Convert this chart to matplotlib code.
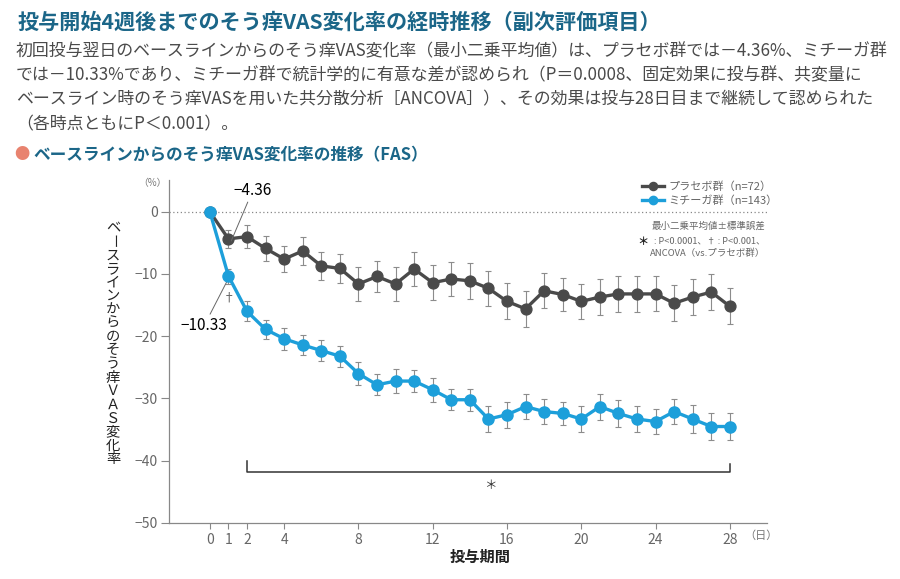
import matplotlib
matplotlib.use('Agg')
import matplotlib.pyplot as plt
import numpy as np

plt.rcParams['font.family'] = ['Noto Sans CJK JP', 'DejaVu Sans']

# データ
days = np.arange(0, 29)
placebo = [0, -4.36, -4.0, -5.9, -7.6, -6.3, -8.7, -9.1, -11.6, -10.4, -11.6, -9.2, -11.4, -10.8,
           -11.1, -12.3, -14.4, -15.6, -12.7, -13.3, -14.4, -13.7, -13.2, -13.2, -13.2, -14.7,
           -13.7, -12.9, -15.2]
placebo_se = [0, 1.5, 1.9, 2.0, 2.1, 2.2, 2.3, 2.3, 2.7, 2.5, 2.7, 2.8, 2.8, 2.7,
              2.9, 2.8, 2.9, 2.9, 2.8, 2.7, 2.8, 2.9, 2.9, 2.9, 2.8, 2.9,
              2.9, 2.9, 2.9]
mitiga = [0, -10.33, -16.0, -18.9, -20.4, -21.4, -22.3, -23.2, -26.0, -27.8, -27.2, -27.2, -28.6, -30.2,
          -30.2, -33.3, -32.6, -31.3, -32.1, -32.4, -33.3, -31.3, -32.4, -33.3, -33.7, -32.1,
          -33.3, -34.5, -34.5]
mitiga_se = [0, 1.2, 1.6, 1.5, 1.8, 1.6, 1.7, 1.7, 1.9, 1.7, 1.9, 1.8, 1.9, 1.7,
             1.8, 2.1, 2.1, 2.0, 2.0, 1.9, 2.1, 2.1, 2.1, 2.1, 2.0, 2.0,
             2.2, 2.2, 2.1]
xticks = [0, 1, 2, 4, 8, 12, 16, 20, 24, 28]
yticks = [0, -10, -20, -30, -40, -50]

gray = '#4a4a4a'
blue = '#1d9fda'
teal = '#1b6688'

fig = plt.figure(figsize=(9, 5.79), dpi=100)

# 見出し・本文
fig.text(18 / 900, 1 - 22 / 579, '投与開始4週後までのそう痒VAS変化率の経時推移（副次評価項目）',
         fontsize=15.2, fontweight='bold', color=teal, va='center')
body = ['初回投与翌日のベースラインからのそう痒VAS変化率（最小二乗平均値）は、プラセボ群では－4.36%、ミチーガ群',
        'では－10.33%であり、ミチーガ群で統計学的に有意な差が認められ（P＝0.0008、固定効果に投与群、共変量に',
        'ベースライン時のそう痒VASを用いた共分散分析［ANCOVA］）、その効果は投与28日目まで継続して認められた',
        '（各時点ともにP＜0.001）。']
for i, line in enumerate(body):
    fig.text(16 / 900, 1 - (51 + i * 24.3) / 579, line, fontsize=12.2, color='#4a4a4a', va='center')
fig.text(22 / 900, 1 - 155 / 579, '●', fontsize=11, color='#e8836f', va='center', ha='center')
fig.text(33 / 900, 1 - 155 / 579, 'ベースラインからのそう痒VAS変化率の推移（FAS）',
         fontsize=12, fontweight='bold', color=teal, va='center')

ax = fig.add_axes([169 / 900, 1 - 523 / 579, 598 / 900, 343 / 579])

ax.axhline(0, color='#888888', lw=0.9, ls=(0, (1, 2)), zorder=1)

ax.errorbar(days[1:], placebo[1:], yerr=placebo_se[1:], fmt='none', ecolor='#8c8c8c',
            elinewidth=0.8, capsize=2.3, capthick=0.8, zorder=2)
ax.errorbar(days[1:], mitiga[1:], yerr=mitiga_se[1:], fmt='none', ecolor='#8c8c8c',
            elinewidth=0.8, capsize=2.3, capthick=0.8, zorder=2)
ax.plot(days, placebo, color=gray, lw=2.4, marker='o', ms=7.8, label='プラセボ群（n=72）', zorder=3)
ax.plot(days, mitiga, color=blue, lw=2.4, marker='o', ms=8.0, label='ミチーガ群（n=143）', zorder=4)

# 有意差ブラケット
ax.plot([2, 2, 28, 28], [-40.0, -41.8, -41.8, -40.5], color='#333333', lw=1.1)
ax.text(15.1, -43.9, '＊', ha='center', va='center', fontsize=9, color='#333333')
ax.text(1.05, -13.8, '†', ha='center', va='center', fontsize=9, color='#666666')

# 数値ラベル
ax.annotate('−4.36', xy=(1.15, -4.7), xytext=(2.3, 2.0), fontsize=11, ha='center', va='bottom',
            arrowprops=dict(arrowstyle='-', color='#666666', lw=0.7, shrinkA=0, shrinkB=0))
ax.annotate('−10.33', xy=(0.9, -11.3), xytext=(-0.3, -16.9), fontsize=11, ha='center', va='top',
            arrowprops=dict(arrowstyle='-', color='#666666', lw=0.7, shrinkA=0, shrinkB=0))

ax.set_xlim(-2.2, 30)
ax.set_ylim(-50, 5.1)
ax.set_xticks(xticks)
ax.set_yticks(yticks)
ax.set_yticklabels(['0', '−10', '−20', '−30', '−40', '−50'])
ax.tick_params(axis='both', colors='#888888', labelcolor='#666666', labelsize=10, width=0.8)
ax.tick_params(axis='y', length=6, pad=2)
ax.tick_params(axis='x', length=4, pad=3)
for s in ['top', 'right']:
    ax.spines[s].set_visible(False)
for s in ['left', 'bottom']:
    ax.spines[s].set_color('#888888')
    ax.spines[s].set_linewidth(0.9)

ax.text(-3.1, 4.6, '（%）', fontsize=7, color='#777777', ha='center', va='center', clip_on=False)
ax.text(29.7, -52.1, '（日）', fontsize=8, color='#777777', ha='center', va='center', clip_on=False)

leg = ax.legend(loc='upper right', bbox_to_anchor=(1.035, 1.025), frameon=False, fontsize=8,
                handlelength=2.0, handletextpad=0.4, labelspacing=0.3, markerscale=0.75)
for t in leg.get_texts():
    t.set_color('#666666')

ax.text(0.997, 0.866, '最小二乗平均値±標準誤差', transform=ax.transAxes, ha='right', va='center',
        fontsize=6.8, color='#666666')
ax.text(0.997, 0.822, ': P<0.0001、† : P<0.001、', transform=ax.transAxes, ha='right', va='center',
        fontsize=6.6, color='#666666')
ax.text(0.792, 0.822, '＊', transform=ax.transAxes, ha='center', va='center',
        fontsize=8, color='#222222', fontweight='bold')
ax.text(0.997, 0.787, 'ANCOVA（vs.プラセボ群）', transform=ax.transAxes, ha='right', va='center',
        fontsize=6.8, color='#666666')

# 縦書きの軸ラベル
ylab = 'ベースラインからのそう痒ＶＡＳ変化率'
for i, ch in enumerate(ylab):
    fig.text(113 / 900, 1 - (228 + i * 13.6) / 579, ch, fontsize=10.3, ha='center', va='center',
             color='#222222', rotation=-90 if ch == 'ー' else 0)
fig.text(480 / 900, 1 - 557 / 579, '投与期間', fontsize=11, fontweight='bold', ha='center', va='center',
         color='#222222')

plt.savefig('out.png', dpi=100)
